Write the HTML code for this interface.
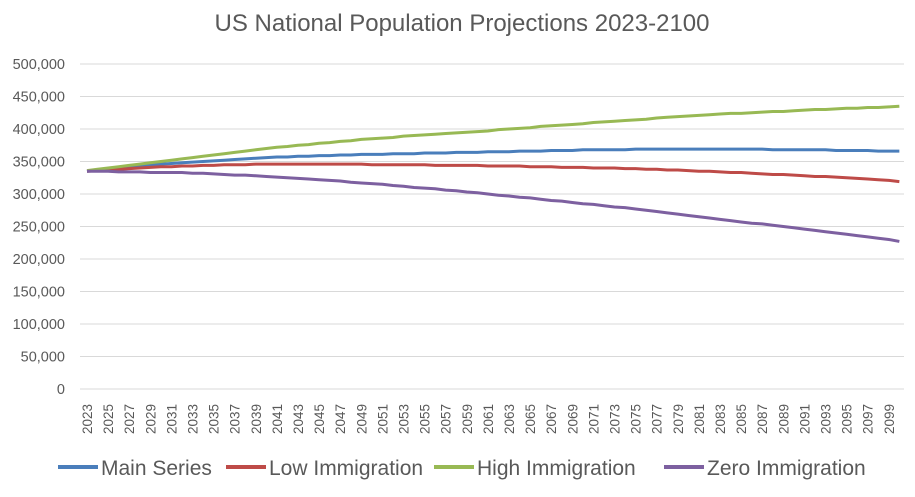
<!DOCTYPE html>
<html><head><meta charset="utf-8"><style>
body{margin:0;background:#fff;font-family:"Liberation Sans",sans-serif;}
svg text{font-family:"Liberation Sans",sans-serif;fill:#595959;}
</style></head><body>
<svg id="c" width="915" height="492">
<text x="462" y="31" text-anchor="middle" font-size="24">US National Population Projections 2023-2100</text>
<g id="grid"></g><g id="lines"></g><g id="xl"></g><g id="yl"></g><g id="legend"></g>
</svg>
<script>
const startYear = 2023;
const yTicks = [0,50000,100000,150000,200000,250000,300000,350000,400000,450000,500000];
const seriesNames = ["Main Series","Low Immigration","High Immigration","Zero Immigration"];
const mainSeries = [335,337,339,340,342,343,345,346,347,348,349,350,351,352,353,354,355,356,357,357,358,358,359,359,360,360,361,361,361,362,362,362,363,363,363,364,364,364,365,365,365,366,366,366,367,367,367,368,368,368,368,368,369,369,369,369,369,369,369,369,369,369,369,369,369,368,368,368,368,368,368,367,367,367,367,366,366,366];
const lowImmigration = [335,336,337,338,339,340,341,342,342,343,343,344,344,345,345,345,346,346,346,346,346,346,346,346,346,346,346,345,345,345,345,345,345,344,344,344,344,344,343,343,343,343,342,342,342,341,341,341,340,340,340,339,339,338,338,337,337,336,335,335,334,333,333,332,331,330,330,329,328,327,327,326,325,324,323,322,321,319];
const highImmigration = [336,338,340,342,344,346,348,350,352,354,356,358,360,362,364,366,368,370,372,373,375,376,378,379,381,382,384,385,386,387,389,390,391,392,393,394,395,396,397,399,400,401,402,404,405,406,407,408,410,411,412,413,414,415,417,418,419,420,421,422,423,424,424,425,426,427,427,428,429,430,430,431,432,432,433,433,434,435];
const zeroImmigration = [335,335,335,334,334,334,333,333,333,333,332,332,331,330,329,329,328,327,326,325,324,323,322,321,320,318,317,316,315,313,312,310,309,308,306,305,303,302,300,298,297,295,294,292,290,289,287,285,284,282,280,279,277,275,273,271,269,267,265,263,261,259,257,255,254,252,250,248,246,244,242,240,238,236,234,232,230,227];
const colors = ["#4a7ebb","#be4b48","#98b954","#7d60a0"];
const NS="http://www.w3.org/2000/svg";
const X0=87, DX=10.55, Y0=389, YMAX=500000, YH=325;
const xs = i => X0 + i*DX;
const ys = v => Y0 - v/YMAX*YH;
function mk(tag, attrs, parent){const e=document.createElementNS(NS,tag);for(const k in attrs)e.setAttribute(k,attrs[k]);parent.appendChild(e);return e;}
const grid=document.getElementById('grid'), yl=document.getElementById('yl'), xl=document.getElementById('xl'), lines=document.getElementById('lines'), lg=document.getElementById('legend');
yTicks.forEach(t=>{
  const l=mk('line',{x1:80,x2:904,y1:ys(t),y2:ys(t),stroke:"#d9d9d9","stroke-width":1},grid);
  
  
  const tx=mk('text',{x:65,y:ys(t)+5,"text-anchor":"end","font-size":"14.5"},yl);
  tx.textContent=t.toLocaleString('en-US');
  
  
});
const n=mainSeries.length;
for(let i=0;i<n;i+=2){
  const tx=mk('text',{transform:`translate(${xs(i)+5},434) rotate(-90)`,"font-size":"13.5"},xl);
  tx.textContent=startYear+i;
  
  
}
[mainSeries,lowImmigration,highImmigration,zeroImmigration].forEach((s,k)=>{
  const p=mk('polyline',{points:s.map((v,i)=>xs(i)+","+ys(v*1000)).join(" "),fill:"none",stroke:colors[k],"stroke-width":3,"stroke-linejoin":"round"},lines);
  
  
});
const lx=[58,226,434,664];
seriesNames.forEach((nm,k)=>{
  const l=mk('line',{x1:lx[k],x2:lx[k]+40,y1:467,y2:467,stroke:colors[k],"stroke-width":4},lg);
  
  
  const t=mk('text',{x:lx[k]+43,y:475,"font-size":"21"},lg);
  t.textContent=nm;
  
  
});
</script>
</body></html>
